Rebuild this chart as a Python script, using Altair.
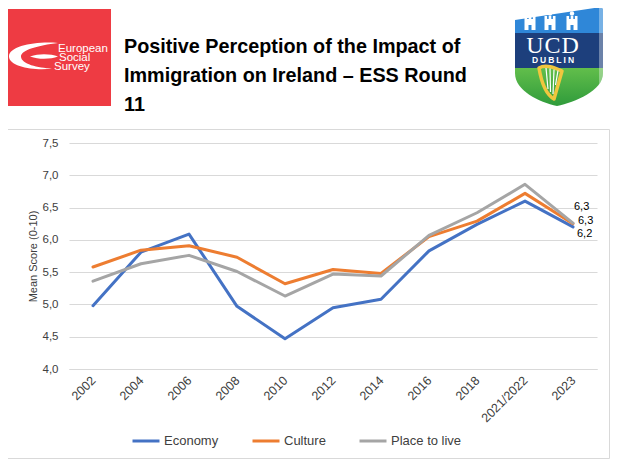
import base64
import altair as alt
import pandas as pd

# ---------------- data ----------------
years = ["2002", "2004", "2006", "2008", "2010", "2012", "2014", "2016",
         "2018", "2021/2022", "2023"]
series_names = ["Economy", "Culture", "Place to live"]
economy = [4.98, 5.81, 6.09, 4.97, 4.47, 4.95, 5.08, 5.83, 6.24, 6.60, 6.20]
culture = [5.58, 5.84, 5.91, 5.73, 5.32, 5.54, 5.48, 6.05, 6.29, 6.72, 6.25]
place_to_live = [5.36, 5.63, 5.76, 5.51, 5.13, 5.47, 5.44, 6.07, 6.42, 6.86, 6.26]
end_labels = ["6,2", "6,3", "6,3"]
series_colors = ["#4472C4", "#ED7D31", "#A5A5A5"]
y_ticks = [4.0, 4.5, 5.0, 5.5, 6.0, 6.5, 7.0, 7.5]
title_lines = ["Positive Perception of the Impact of",
               "Immigration on Ireland – ESS Round", "11"]
y_title = "Mean Score (0-10)"

rows = []
for name, vals, lab in zip(series_names, [economy, culture, place_to_live], end_labels):
    for i, (yr, v) in enumerate(zip(years, vals)):
        rows.append({"year": yr, "value": v, "series": name,
                     "label": lab if i == len(years) - 1 else ""})
df = pd.DataFrame(rows)

FONT = "Liberation Sans"
TXT = "#404040"

# ---------------- logos (decorative SVG) ----------------
ess_svg = """<svg xmlns="http://www.w3.org/2000/svg" width="105" height="97" viewBox="0 0 105 97">
<rect width="105" height="97" fill="#EE3B43"/>
<path d="M52,34 C30,32 3,37 3,47.5 C3,58 30,62 46,59.5 C32,59 15,55 15,47.5 C15,41 32,36.5 52,34 Z" fill="#fff"/>
<path d="M24,47.5 C34,44 45,45 52,47.5 C45,50 34,51 24,47.5 Z" fill="#fff"/>
<text font-family="Liberation Sans, Arial, sans-serif" font-size="11.5" fill="#fff">
<tspan x="52" y="43">European</tspan><tspan x="53" y="52">Social</tspan><tspan x="48" y="60.5">Survey</tspan></text>
</svg>"""

castles = ""
for cx in (15, 35, 57):
    castles += (f'<rect x="{cx-5.5}" y="12" width="11" height="11" fill="#fff"/>'
                f'<rect x="{cx-5.5}" y="9" width="2.6" height="3" fill="#fff"/>'
                f'<rect x="{cx-1.3}" y="9" width="2.6" height="3" fill="#fff"/>'
                f'<rect x="{cx+2.9}" y="9" width="2.6" height="3" fill="#fff"/>'
                f'<circle cx="{cx}" cy="6.5" r="2.2" fill="#fff"/>'
                f'<rect x="{cx-1.5}" y="18" width="3" height="5" fill="#2F87D8"/>')

ucd_svg = f"""<svg xmlns="http://www.w3.org/2000/svg" width="88" height="99" viewBox="0 0 88 99">
<defs><clipPath id="s"><path d="M0,13 L86,0 L88,2 L88,66 C88,84 60,95 42,99 C24,95 0,84 0,66 Z"/></clipPath>
<linearGradient id="g" x1="0" y1="0" x2="0" y2="1"><stop offset="0" stop-color="#62BE4B"/><stop offset="1" stop-color="#2F9B3B"/></linearGradient></defs>
<g clip-path="url(#s)">
<rect x="0" y="0" width="88" height="26" fill="#2F87D8"/>
<rect x="0" y="26" width="88" height="35" fill="#1D3F7C"/>
<rect x="0" y="61" width="88" height="38" fill="url(#g)"/>
<rect x="84" y="0" width="4" height="99" fill="#ffffff" fill-opacity="0.35"/>
</g>
{castles}
<text x="38" y="46" text-anchor="middle" font-family="Liberation Serif, serif" font-size="24" fill="#fff" letter-spacing="1">UCD</text>
<text x="39" y="56" text-anchor="middle" font-family="Liberation Sans, sans-serif" font-weight="bold" font-size="8.5" fill="#fff" letter-spacing="2">DUBLIN</text>
<path d="M24,61 C31,57 40,61 47,64 L39,92 C32,88 27,79 24,61 Z" fill="none" stroke="#F0C63E" stroke-width="3.5" stroke-linejoin="round"/>
<g stroke="#ffffff" stroke-width="1.2">
<line x1="31" y1="61" x2="33" y2="82"/><line x1="35" y1="61.5" x2="35.5" y2="85"/>
<line x1="39" y1="62.5" x2="38" y2="87"/><line x1="43" y1="63.5" x2="40.5" y2="78"/>
</g>
</svg>"""


def data_uri(svg):
    return "data:image/svg+xml;base64," + base64.b64encode(svg.encode("utf-8")).decode("ascii")


one = alt.Data(values=[{"k": 0}])

# Plot origin is at page (69, 143)
frame = alt.Chart(one).mark_rect(filled=False, stroke="#D9D9D9", strokeWidth=1).encode(
    x=alt.value(-62.5), x2=alt.value(540.5), y=alt.value(-13.5), y2=alt.value(315.5))

ess = alt.Chart(alt.Data(values=[{"url": data_uri(ess_svg)}])).mark_image(
    width=105, height=97, align="left", baseline="top", aspect=False
).encode(x=alt.value(-63), y=alt.value(-134), url="url:N")

ucd = alt.Chart(alt.Data(values=[{"url": data_uri(ucd_svg)}])).mark_image(
    width=88, height=99, align="left", baseline="top", aspect=False
).encode(x=alt.value(446), y=alt.value(-136), url="url:N")

title = alt.Chart(one).mark_text(
    text=title_lines, align="left", baseline="alphabetic", font=FONT,
    fontSize=19.8, fontWeight="bold", color="#000000", lineHeight=29
).encode(x=alt.value(55), y=alt.value(-90))

# ---------------- chart ----------------
x_enc = alt.X(
    "year:N", sort=years,
    scale=alt.Scale(type="point", padding=0.5),
    axis=alt.Axis(title=None, labelAngle=-45, labelAlign="right", labelBaseline="middle",
                  labelPadding=9, labelFont=FONT, labelFontSize=12.5, labelColor=TXT,
                  domain=True, domainColor="#D9D9D9", ticks=False, grid=False),
)
y_enc = alt.Y(
    "value:Q",
    scale=alt.Scale(domain=[4, 7.5], nice=False, zero=False),
    axis=alt.Axis(values=y_ticks, tickCount=8,
                  labelExpr="replace(format(datum.value, '.1f'), '.', ',')",
                  title=y_title, titleFont=FONT, titleFontSize=11, titleFontWeight="normal",
                  titleColor=TXT, titlePadding=4,
                  labelFont=FONT, labelFontSize=11.5, labelColor=TXT, labelPadding=11,
                  labelOverlap=False,
                  grid=True, gridColor="#D9D9D9", gridWidth=1, domain=False, ticks=False),
)

lines = alt.Chart(df).mark_line(strokeWidth=3, strokeJoin="round", strokeCap="round").encode(
    x=x_enc, y=y_enc,
    color=alt.Color(
        "series:N", sort=series_names,
        scale=alt.Scale(domain=series_names, range=series_colors),
        legend=alt.Legend(orient="none", legendX=62, legendY=283, direction="horizontal",
                          title=None, symbolType="stroke", symbolSize=729,
                          symbolStrokeWidth=3, labelFont=FONT, labelFontSize=13,
                          labelColor=TXT, columnPadding=27, labelOffset=3, padding=0),
    ),
)


def end_label(name, dx, dy):
    return alt.Chart(df).transform_filter(
        (alt.datum.series == name) & (alt.datum.label != "")
    ).mark_text(align="left", baseline="middle", dx=dx, dy=dy, font=FONT,
                fontSize=11, color="#000000").encode(
        x=x_enc, y=y_enc, text="label:N")


lab_e = end_label("Economy", 4, 7.5)
lab_c = end_label("Culture", 5, -2.5)
lab_p = end_label("Place to live", 1, -16)

chart = alt.layer(frame, ess, ucd, title, lines, lab_e, lab_c, lab_p).properties(
    width=528, height=226,
    padding={"left": 61, "top": 135, "right": 17, "bottom": 90},
    autosize=alt.AutoSizeParams(type="none"),
    background="white",
).configure_view(stroke="transparent")

chart.save("out.html", embed_options={"renderer": "svg", "actions": False})
